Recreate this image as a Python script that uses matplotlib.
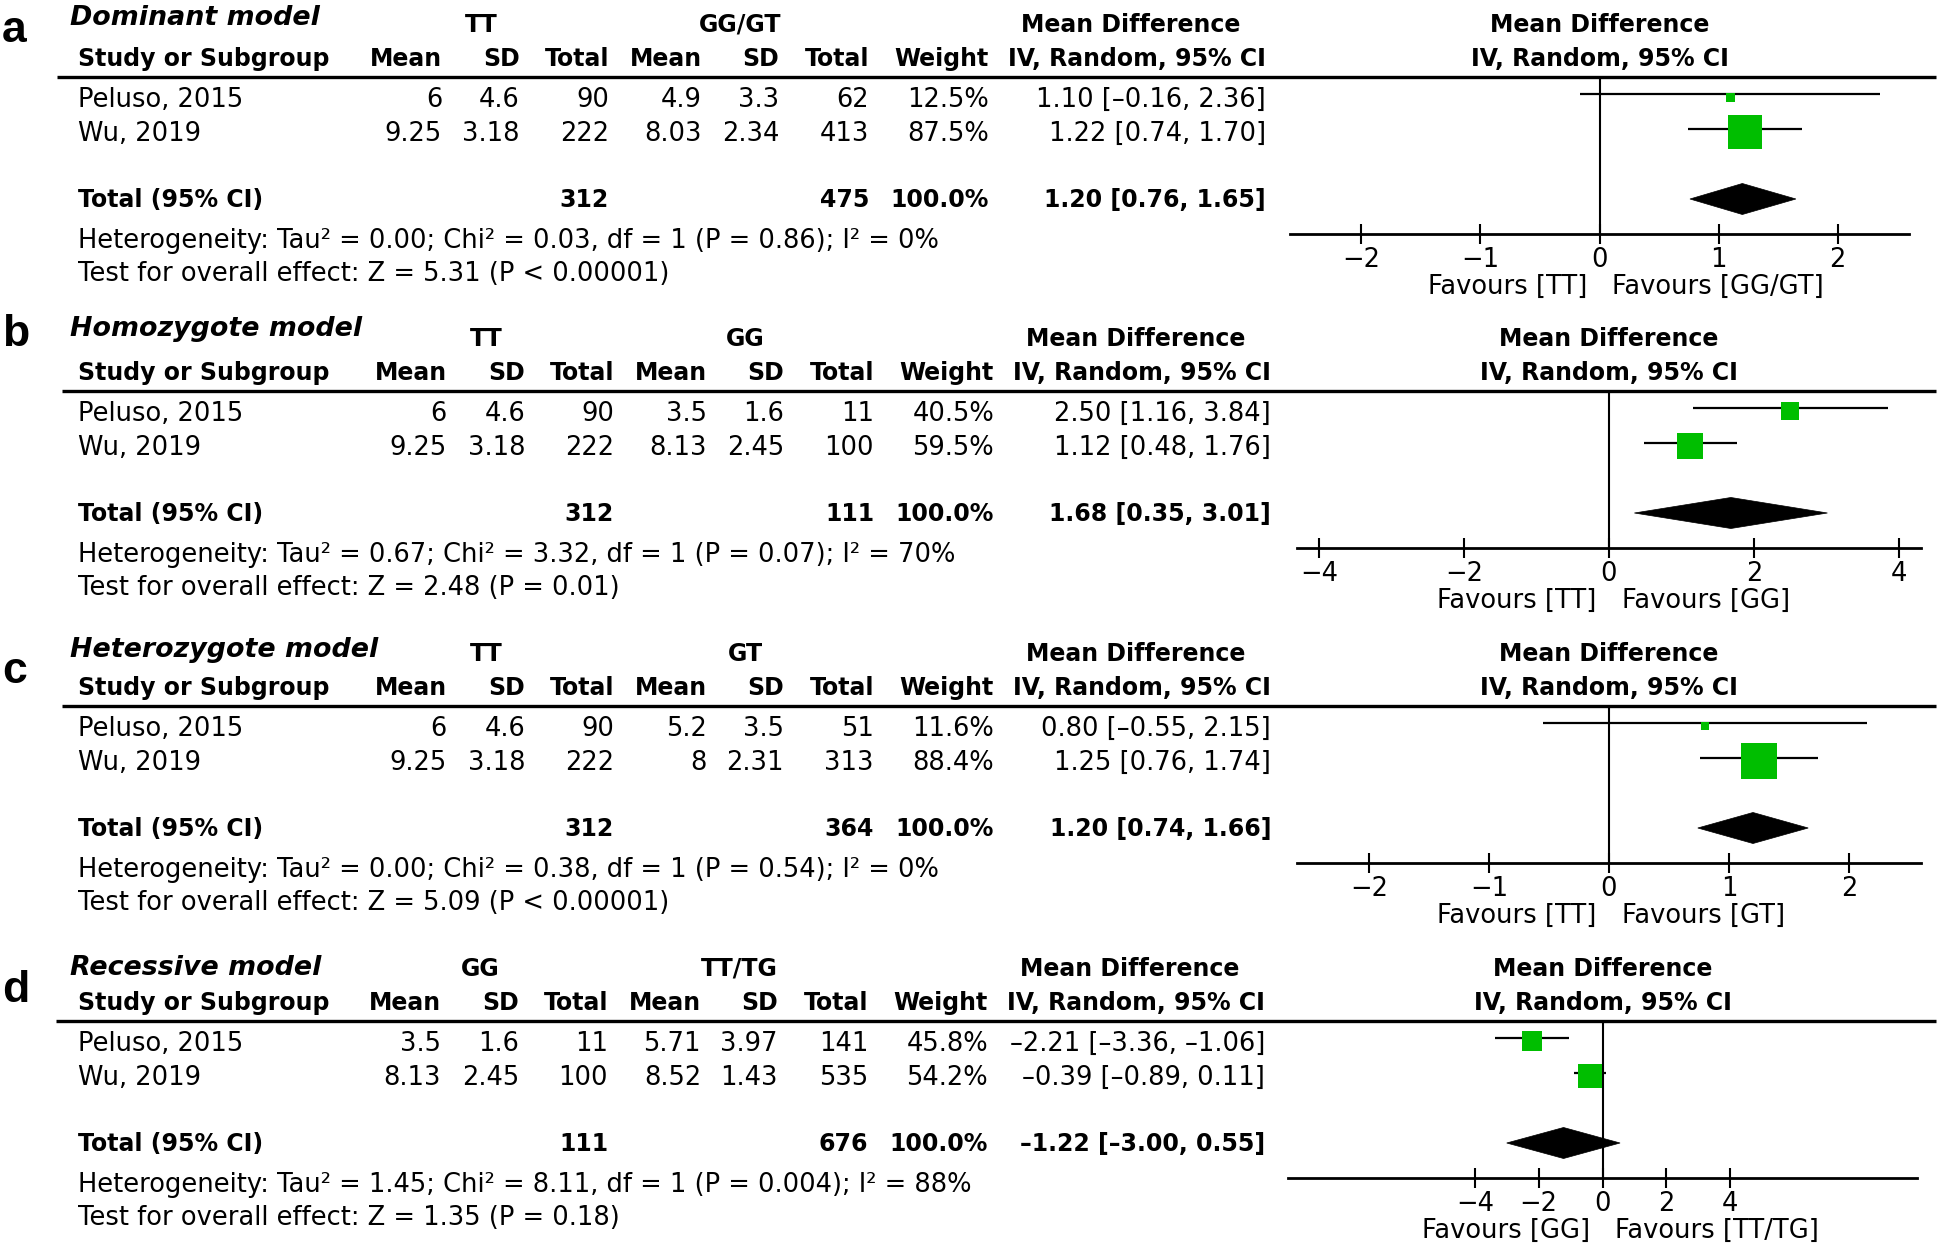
"""
Four-panel forest plot (RevMan style): mean difference, IV random effects.
"""

import matplotlib
matplotlib.use("Agg")
import matplotlib.pyplot as plt
from matplotlib.patches import Polygon

W, H = 1946, 1246
DPI = 100

# ============================================================
# Data
# ============================================================
panel_letters = ["a", "b", "c", "d"]
model_names = ["Dominant model", "Homozygote model", "Heterozygote model", "Recessive model"]
group1_names = ["TT", "TT", "TT", "GG"]
group2_names = ["GG/GT", "GG", "GT", "TT/TG"]
studies = ["Peluso, 2015", "Wu, 2019"]

g1_mean = [[6, 9.25], [6, 9.25], [6, 9.25], [3.5, 8.13]]
g1_sd = [[4.6, 3.18], [4.6, 3.18], [4.6, 3.18], [1.6, 2.45]]
g1_total = [[90, 222], [90, 222], [90, 222], [11, 100]]
g2_mean = [[4.9, 8.03], [3.5, 8.13], [5.2, 8], [5.71, 8.52]]
g2_sd = [[3.3, 2.34], [1.6, 2.45], [3.5, 2.31], [3.97, 1.43]]
g2_total = [[62, 413], [11, 100], [51, 313], [141, 535]]
weights = [[12.5, 87.5], [40.5, 59.5], [11.6, 88.4], [45.8, 54.2]]

md = [[1.10, 1.22], [2.50, 1.12], [0.80, 1.25], [-2.21, -0.39]]
ci_lo = [[-0.16, 0.74], [1.16, 0.48], [-0.55, 0.76], [-3.36, -0.89]]
ci_hi = [[2.36, 1.70], [3.84, 1.76], [2.15, 1.74], [-1.06, 0.11]]

total_md = [1.20, 1.68, 1.20, -1.22]
total_lo = [0.76, 0.35, 0.74, -3.00]
total_hi = [1.65, 3.01, 1.66, 0.55]

tau2 = ["0.00", "0.67", "0.00", "1.45"]
chi2 = ["0.03", "3.32", "0.38", "8.11"]
p_het = ["0.86", "0.07", "0.54", "0.004"]
i2 = [0, 70, 0, 88]
z_val = ["5.31", "2.48", "5.09", "1.35"]
p_z = ["< 0.00001", "= 0.01", "< 0.00001", "= 0.18"]

axis_ticks = [[-2, -1, 0, 1, 2], [-4, -2, 0, 2, 4], [-2, -1, 0, 1, 2], [-4, -2, 0, 2, 4]]
axis_lim = [2.6, 4.3, 2.6, 9.85]

# ============================================================
# Layout (pixels from top-left)
# ============================================================
base_y = [77, 391, 706, 1021]          # header rule of each panel
dx = [0, 5, 5, -1]                     # small horizontal shift per panel
letter_y = [42, 346, 683, 1002]
title_y = [25, 336, 657, 975]
forest_x = [(1290, 1909), (1297, 1921), (1297, 1921), (1288, 1917)]
col_right = [442, 520, 609, 702, 779, 869, 989]
col_names = ["Mean", "SD", "Total", "Mean", "SD", "Total", "Weight"]
ci_right = 1266
left_x = 78

REG = 18.5
BOLD = 17
GREEN = "#00BE00"
FONT = "DejaVu Sans"

plt.rcParams["font.family"] = FONT


def fmt(v):
    return f"{v:.2f}".replace("-", "–")


def ci_text(m, lo, hi):
    return f"{fmt(m)} [{fmt(lo)}, {fmt(hi)}]"


fig = plt.figure(figsize=(W / DPI, H / DPI), dpi=DPI)
bg = fig.add_axes([0, 0, 1, 1])
bg.set_xlim(0, W)
bg.set_ylim(H, 0)
bg.axis("off")


def put(x, y, s, ha="left", bold=False, size=None):
    bg.text(x, y, s, ha=ha, va="baseline",
            fontsize=size if size else (BOLD if bold else REG),
            fontweight="bold" if bold else "normal")


for i in range(4):
    b = base_y[i]
    d = dx[i]
    cr = [c + d for c in col_right]
    cir = ci_right + d

    # panel letter and model title
    bg.text(2, letter_y[i], panel_letters[i], ha="left", va="baseline",
            fontsize=32, fontweight="bold", family="Liberation Sans")
    bg.text(70, title_y[i], model_names[i], ha="left", va="baseline",
            fontsize=19.4, fontweight="bold", fontstyle="oblique")

    # header rows
    put(481 + d, b - 45, group1_names[i], ha="center", bold=True)
    put(740 + d, b - 45, group2_names[i], ha="center", bold=True)
    put(cir - 135, b - 45, "Mean Difference", ha="center", bold=True)
    put(left_x, b - 11, "Study or Subgroup", bold=True)
    for cx, nm in zip(cr, col_names):
        put(cx, b - 11, nm, ha="right", bold=True)
    put(cir, b - 11, "IV, Random, 95% CI", ha="right", bold=True)
    bg.plot([57 + d, 1936], [b, b], color="black", lw=2.4, solid_capstyle="butt")

    # study rows
    row_y = [b + 30, b + 64]
    for j, st in enumerate(studies):
        y = row_y[j]
        put(left_x, y, st)
        vals = [f"{g1_mean[i][j]:g}", f"{g1_sd[i][j]:g}", f"{g1_total[i][j]}",
                f"{g2_mean[i][j]:g}", f"{g2_sd[i][j]:g}", f"{g2_total[i][j]}",
                f"{weights[i][j]:.1f}%"]
        for cx, v in zip(cr, vals):
            put(cx, y, v, ha="right")
        put(cir, y, ci_text(md[i][j], ci_lo[i][j], ci_hi[i][j]), ha="right")

    # total row
    ty = b + 130
    put(left_x, ty, "Total (95% CI)", bold=True)
    put(cr[2], ty, f"{sum(g1_total[i])}", ha="right", bold=True)
    put(cr[5], ty, f"{sum(g2_total[i])}", ha="right", bold=True)
    put(cr[6], ty, f"{sum(weights[i]):.1f}%", ha="right", bold=True)
    put(cir, ty, ci_text(total_md[i], total_lo[i], total_hi[i]), ha="right", bold=True)

    put(left_x, b + 171,
        f"Heterogeneity: Tau² = {tau2[i]}; Chi² = {chi2[i]}, df = {len(studies) - 1} "
        f"(P = {p_het[i]}); I² = {i2[i]}%")
    put(left_x, b + 204, f"Test for overall effect: Z = {z_val[i]} (P {p_z[i]})")

    # ---- forest panel ----
    x0, x1 = forest_x[i]
    ax_y = b + 157
    fa = fig.add_axes([x0 / W, 1 - ax_y / H, (x1 - x0) / W, (ax_y - b) / H])
    lim = axis_lim[i]
    fa.set_xlim(-lim, lim)
    fa.set_ylim(ax_y, b)
    fa.patch.set_visible(False)
    for s in ["top", "left", "right"]:
        fa.spines[s].set_visible(False)
    fa.spines["bottom"].set_linewidth(2)
    fa.set_yticks([])
    fa.set_xticks(axis_ticks[i])
    fa.tick_params(axis="x", direction="inout", length=14.4, width=1.5,
                   pad=2, labelsize=REG)
    fa.axvline(0, color="black", lw=1.5, zorder=1)

    line_y = [b + 17, b + 52]
    sq_y = [b + 19.5, b + 54.5]
    for j in range(len(studies)):
        fa.hlines(line_y[j], ci_lo[i][j], ci_hi[i][j], color="black", lw=1.6, zorder=2)
        side = (4.7 + 0.344 * weights[i][j]) * 0.72
        fa.scatter([md[i][j]], [sq_y[j]], marker="s", s=side ** 2, color=GREEN,
                   linewidths=0, zorder=3, clip_on=False)

    dy = b + 122
    fa.add_patch(Polygon([(total_lo[i], dy), (total_md[i], dy - 15.5),
                          (total_hi[i], dy), (total_md[i], dy + 15.5)],
                         closed=True, facecolor="black", edgecolor="black", lw=0.5,
                         zorder=3))

    # forest headers and favours labels
    for yy, s in [(b - 45, "Mean Difference"), (b - 11, "IV, Random, 95% CI")]:
        fa.annotate(s, xy=(0, yy), xycoords="data", ha="center", va="baseline",
                    fontsize=BOLD, fontweight="bold", annotation_clip=False)
    fa.annotate(f"Favours [{group1_names[i]}]", xy=(0, b + 217), xycoords="data",
                xytext=(-9, 0), textcoords="offset points", ha="right", va="baseline",
                fontsize=REG, annotation_clip=False)
    fa.annotate(f"Favours [{group2_names[i]}]", xy=(0, b + 217), xycoords="data",
                xytext=(9, 0), textcoords="offset points", ha="left", va="baseline",
                fontsize=REG, annotation_clip=False)

plt.savefig("out.png", dpi=DPI)
